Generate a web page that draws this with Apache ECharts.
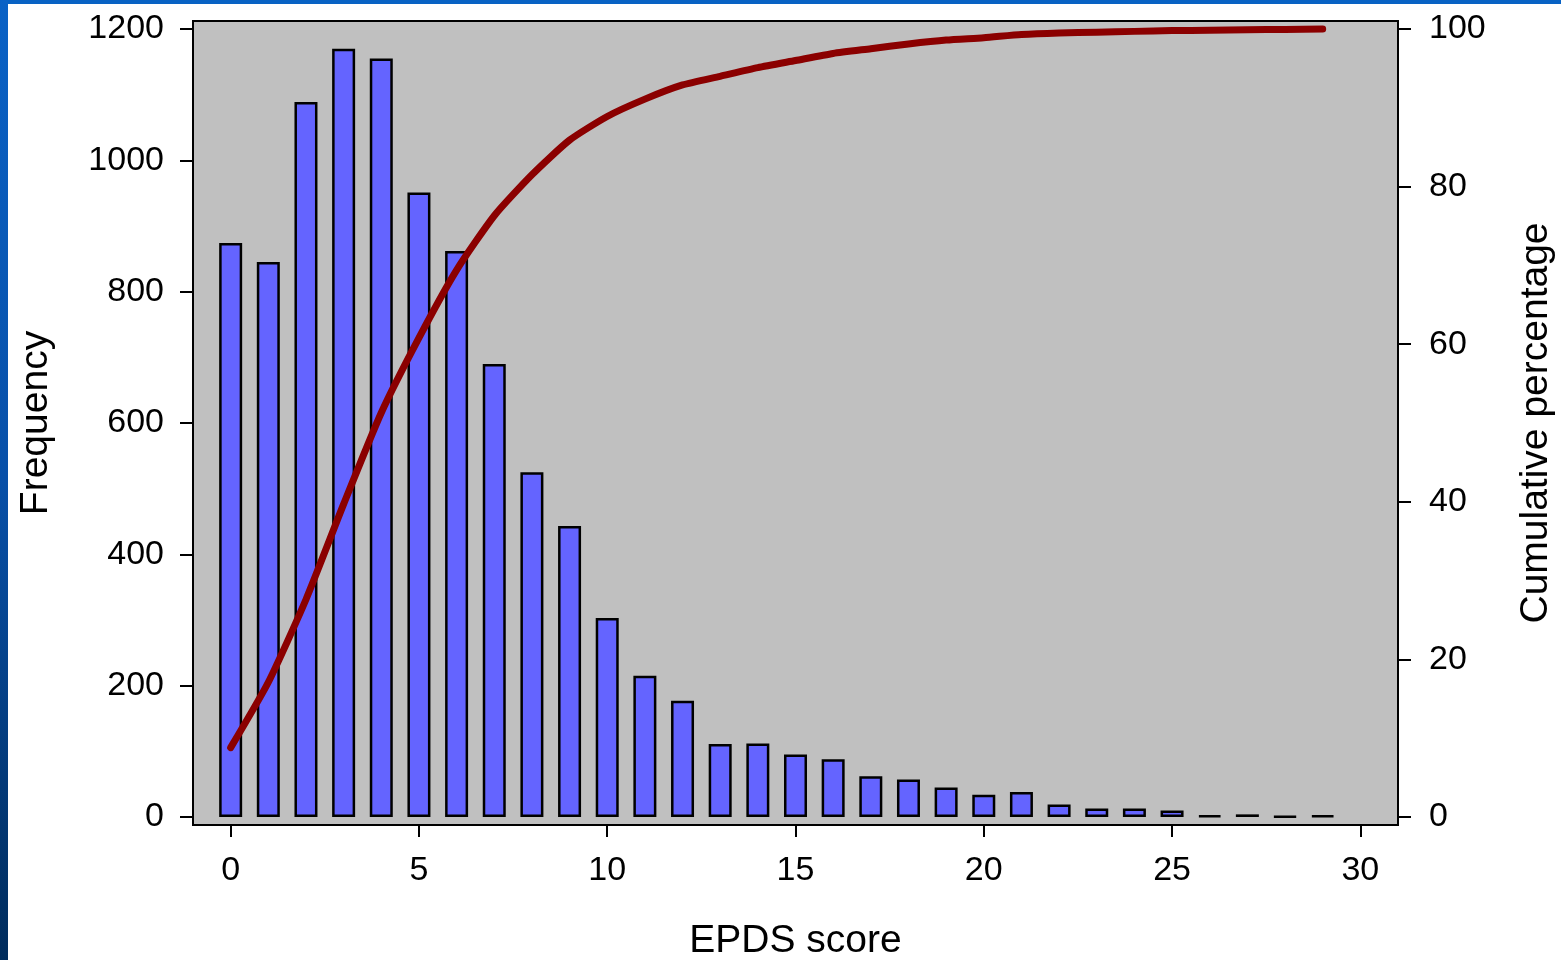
<!DOCTYPE html>
<html>
<head>
<meta charset="utf-8">
<script src="https://cdn.jsdelivr.net/npm/echarts@6/dist/echarts.min.js"></script>
<style>
  html, body { margin: 0; padding: 0; background: #ffffff; }
  #chart { width: 1561px; height: 960px; }
</style>
</head>
<body>
<div id="chart"></div>
<script>
// EPDS scores (x categories)
const scores = [0,1,2,3,4,5,6,7,8,9,10,11,12,13,14,15,16,17,18,19,20,21,22,23,24,25,26,27,28,29];
// Frequency of each score
const frequency = [874, 845, 1089, 1170, 1155, 951, 862, 690, 525, 443, 303, 215, 177, 111, 112, 95, 88, 62, 57, 45, 34, 38, 19, 13, 13, 10, 2, 4, 1, 2];
// Cumulative percentage
const cumulative = [8.8, 17.1, 27.6, 39.7, 51.3, 60.8, 69.4, 76.3, 81.5, 85.9, 88.9, 91.1, 92.9, 94.0, 95.1, 96.0, 96.9, 97.5, 98.1, 98.6, 98.9, 99.3, 99.5, 99.6, 99.7, 99.8, 99.85, 99.9, 99.95, 100];
// Tick labels
const xTicks = [0, 5, 10, 15, 20, 25, 30];
const freqTicks = [0, 200, 400, 600, 800, 1000, 1200];
const pctTicks = [0, 20, 40, 60, 80, 100];

const FONT = "'Liberation Sans', Arial, Helvetica, sans-serif";
const chart = echarts.init(document.getElementById('chart'), null, { renderer: 'canvas' });

const tickStyle = { color: '#000', width: 2 };
const plain = v => String(v);

chart.setOption({
  backgroundColor: '#ffffff',
  animation: false,
  textStyle: { fontFamily: FONT },
  graphic: [
    { type: 'rect', left: 0, top: 0, shape: { width: 1561, height: 4 }, style: { fill: '#0862c4' }, z: 100 },
    { type: 'rect', left: 0, top: 0, shape: { width: 8, height: 960 },
      style: { fill: new echarts.graphic.LinearGradient(0, 0, 0, 1, [
        { offset: 0, color: '#0a62c6' },
        { offset: 0.5, color: '#0850a8' },
        { offset: 1, color: '#002c5c' }
      ]) }, z: 100 }
  ],
  grid: {
    left: 193, top: 21, right: 163, bottom: 135,
    outerBoundsMode: 'none', containLabel: false,
    show: true, backgroundColor: '#c0c0c0', borderColor: '#000', borderWidth: 2
  },
  xAxis: {
    type: 'value', min: -1, max: 31,
    name: 'EPDS score', nameLocation: 'middle', nameGap: 97,
    nameTextStyle: { fontSize: 39, color: '#000', fontFamily: FONT },
    axisLine: { show: false, onZero: false },
    splitLine: { show: false },
    axisTick: { show: true, length: 12, lineStyle: tickStyle, customValues: xTicks },
    axisLabel: { customValues: xTicks, formatter: plain, fontSize: 34, color: '#000', margin: 29, fontFamily: FONT }
  },
  yAxis: [
    {
      type: 'value', min: -12.2, max: 1212.2, position: 'left',
      name: 'Frequency', nameLocation: 'middle', nameRotate: 90, nameGap: 137,
      nameTextStyle: { fontSize: 39, color: '#000', fontFamily: FONT },
      axisLine: { show: false, onZero: false },
      splitLine: { show: false },
      axisTick: { show: true, length: 13, lineStyle: tickStyle, customValues: freqTicks },
      axisLabel: { customValues: freqTicks, formatter: plain, fontSize: 34, color: '#000', margin: 29, fontFamily: FONT }
    },
    {
      type: 'value', min: -1.0167, max: 101.0167, position: 'right',
      name: 'Cumulative percentage', nameLocation: 'middle', nameRotate: 90, nameGap: 119,
      nameTextStyle: { fontSize: 39, color: '#000', fontFamily: FONT },
      axisLine: { show: false, onZero: false },
      splitLine: { show: false },
      axisTick: { show: true, length: 13, lineStyle: tickStyle, customValues: pctTicks },
      axisLabel: { customValues: pctTicks, formatter: plain, fontSize: 34, color: '#000', margin: 31, fontFamily: FONT }
    }
  ],
  series: [
    {
      type: 'bar',
      name: 'Frequency',
      xAxisIndex: 0, yAxisIndex: 0,
      barWidth: 23,
      itemStyle: { color: '#6464ff', borderColor: '#000', borderWidth: 2.5 },
      data: scores.map((s, i) => [s, frequency[i]]),
      z: 2
    },
    {
      type: 'line',
      name: 'Cumulative percentage',
      xAxisIndex: 0, yAxisIndex: 1,
      showSymbol: false, symbol: 'none',
      smooth: 0.2,
      lineStyle: { color: '#8b0000', width: 7, cap: 'round', join: 'round' },
      data: scores.map((s, i) => [s, cumulative[i]]),
      z: 3
    }
  ]
});
</script>
</body>
</html>
